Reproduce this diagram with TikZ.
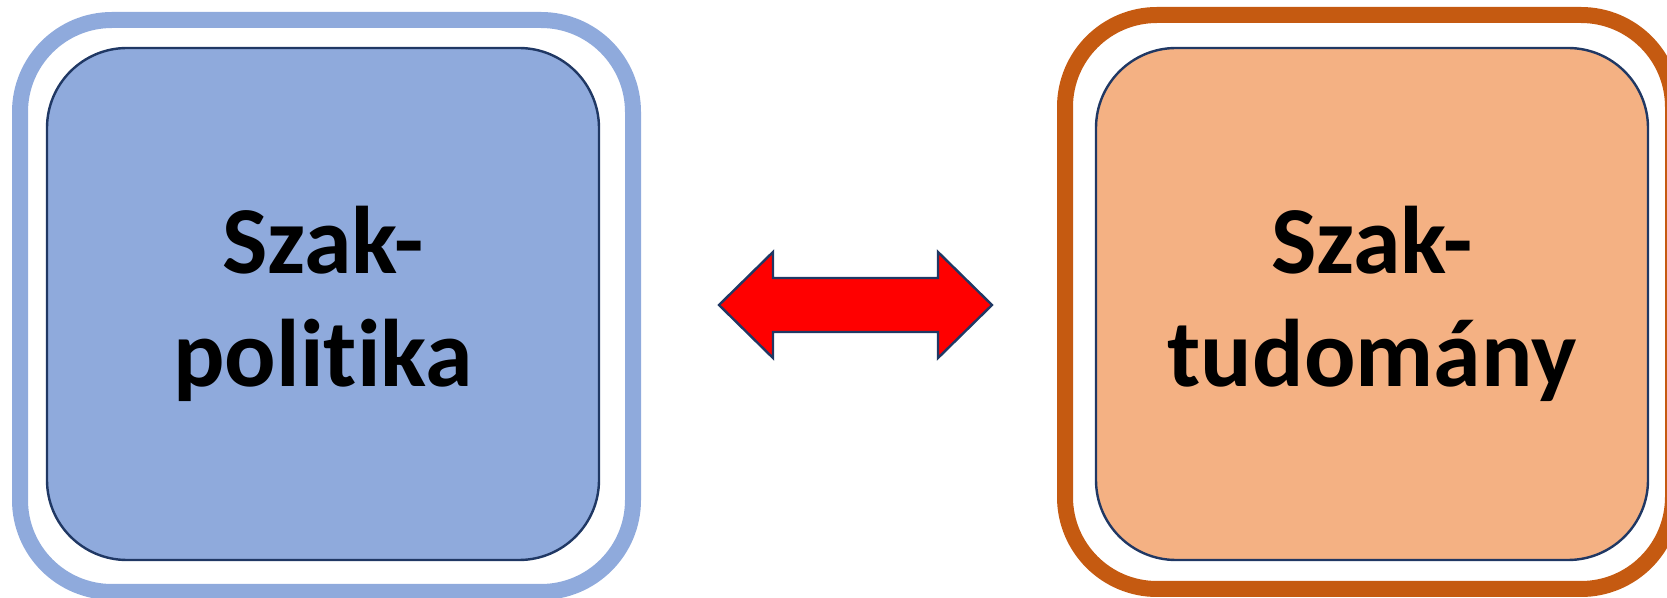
\documentclass[tikz,border=0pt]{standalone}
\usepackage{fontspec}
\setmainfont[Ligatures=NoCommon]{Carlito}
\definecolor{fieldblue}{HTML}{8FAADC}
\definecolor{fieldorange}{HTML}{F4B183}
\definecolor{frameorange}{HTML}{C55A11}
\definecolor{navy}{HTML}{203864}
\tikzset{
  field/.style={draw=navy, line width=1.2pt, rounded corners=40pt,
    minimum width=276pt, minimum height=256pt, inner sep=0pt, align=center,
    font=\fontsize{48}{56.5}\selectfont\bfseries},
  frame/.style={line width=8pt, rounded corners=46pt},
  link/.style={fill=red, draw=navy, line width=1.2pt, line join=miter}
}
\begin{document}
\begin{tikzpicture}[x=0.5pt, y=-0.5pt]
      \useasboundingbox (0,0) rectangle (1667,598);
      \draw
        (323,304) node[field, fill=fieldblue] (politika){Szak-\\politika}
        (1372,304) node[field, fill=fieldorange] (tudomany){Szak-\\tudomány};
      \begin{scope}[frame]
        \draw[fieldblue] (20,20) rectangle (633,592);
        \draw[frameorange] (1065,15) rectangle (1673,589);
      \end{scope}
      \draw[link] (719,305) -- (773,252) -- (773,278) -- (938,278)
        -- (938,252) -- (992,305) -- (938,358) -- (938,332)
        -- (773,332) -- (773,358) -- cycle;
    \end{tikzpicture}
\end{document}
